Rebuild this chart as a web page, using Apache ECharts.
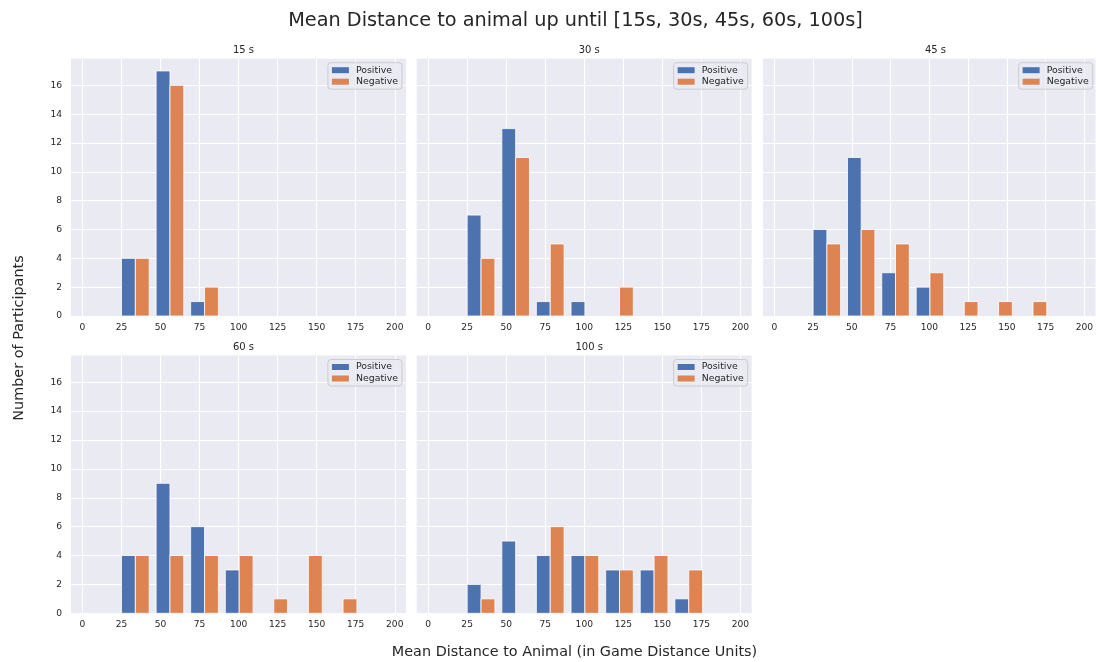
<!DOCTYPE html>
<html>
<head>
<meta charset="utf-8">
<script src="https://cdn.jsdelivr.net/npm/echarts@6/dist/echarts.min.js"></script>
<style>html,body{margin:0;padding:0;background:#fff}#c{width:1096px;height:662px}</style>
</head>
<body>
<div id="c"></div>
<script>
// ---- data ----
const panelTitles = ['15 s', '30 s', '45 s', '60 s', '100 s'];
const binEdges = [22.8, 45.0, 67.1, 89.3, 111.5, 133.6, 155.8, 178.0, 200.2];
const positive15 = [4, 17, 1, 0, 0, 0, 0, 0];
const negative15 = [4, 16, 2, 0, 0, 0, 0, 0];
const positive30 = [7, 13, 1, 1, 0, 0, 0, 0];
const negative30 = [4, 11, 5, 0, 2, 0, 0, 0];
const positive45 = [6, 11, 3, 2, 0, 0, 0, 0];
const negative45 = [5, 6, 5, 3, 1, 1, 1, 0];
const positive60 = [4, 9, 6, 3, 0, 0, 0, 0];
const negative60 = [4, 4, 4, 4, 1, 4, 1, 0];
const positive100 = [2, 5, 4, 4, 3, 3, 1, 0];
const negative100 = [1, 0, 6, 4, 3, 4, 3, 0];
const xTicks = [0, 25, 50, 75, 100, 125, 150, 175, 200];
const yTicks = [0, 2, 4, 6, 8, 10, 12, 14, 16];

const positives = [positive15, positive30, positive45, positive60, positive100];
const negatives = [negative15, negative30, negative45, negative60, negative100];

// ---- layout ----
const FONT = 'DejaVu Sans';
const TXT = '#262626';
const panels = [
  {left: 71, top: 58.7, right: 406, bottom: 316, ylab: true},
  {left: 416.7, top: 58.7, right: 751.7, bottom: 316, ylab: false},
  {left: 763, top: 58.7, right: 1098, bottom: 316, ylab: false},
  {left: 71, top: 355.5, right: 406, bottom: 613.3, ylab: true},
  {left: 416.7, top: 355.5, right: 751.7, bottom: 613.3, ylab: false}
];
const BLUE = '#4c72b0', ORANGE = '#dd8452';

function binData(counts) {
  return counts.map((c, i) => [binEdges[i], binEdges[i + 1], c]);
}
function makeRender(frac) {
  return function (params, api) {
    const l = api.value(0), r = api.value(1), c = api.value(2);
    if (!c) return null;
    const w = r - l;
    const x0 = l + w * (0.1 + frac), x1 = x0 + w * 0.4;
    const p0 = api.coord([x0, c]), p1 = api.coord([x1, 0]);
    return {
      type: 'rect',
      shape: {x: p0[0], y: p0[1], width: p1[0] - p0[0], height: p1[1] - p0[1]},
      style: {fill: api.visual('color'), stroke: '#ffffff', lineWidth: 0.8}
    };
  };
}

const grid = [], xAxis = [], yAxis = [], series = [], legend = [], title = [];
title.push({
  text: 'Mean Distance to animal up until [15s, 30s, 45s, 60s, 100s]',
  left: 570.5, textAlign: 'center', top: 6.5,
  textStyle: {fontFamily: FONT, fontSize: 19.3, fontWeight: 'normal', color: TXT}
});
panels.forEach((p, k) => {
  grid.push({left: p.left, top: p.top, width: p.right - p.left, height: p.bottom - p.top,
    show: true, backgroundColor: '#eaeaf2', borderWidth: 0, containLabel: false});
  xAxis.push({
    type: 'value', gridIndex: k, min: -7.3, max: 207.2,
    axisLine: {show: false},
    axisTick: {show: false, customValues: xTicks},
    axisLabel: {customValues: xTicks, color: TXT, fontFamily: FONT, fontSize: 9.1, margin: 7},
    splitLine: {show: true, lineStyle: {color: '#ffffff', width: 1}}
  });
  yAxis.push({
    type: 'value', gridIndex: k, min: 0, max: 17.85,
    axisLine: {show: false},
    axisTick: {show: false, customValues: yTicks},
    axisLabel: {show: p.ylab, customValues: yTicks, color: TXT, fontFamily: FONT, fontSize: 9.1, margin: 9},
    splitLine: {show: true, lineStyle: {color: '#ffffff', width: 1}}
  });
  series.push({
    type: 'custom', name: 'Positive', xAxisIndex: k, yAxisIndex: k,
    itemStyle: {color: BLUE}, renderItem: makeRender(0),
    encode: {x: [0, 1], y: 2}, data: binData(positives[k])
  });
  series.push({
    type: 'custom', name: 'Negative', xAxisIndex: k, yAxisIndex: k,
    itemStyle: {color: ORANGE}, renderItem: makeRender(0.4),
    encode: {x: [0, 1], y: 2}, data: binData(negatives[k])
  });
  const legRight = [402, 747.7, 1092.7, 402, 747.7][k];
  legend.push({
    data: ['Positive', 'Negative'], orient: 'vertical', selectedMode: false,
    right: 1096 - legRight, top: p.top + 4,
    icon: 'rect', itemWidth: 17, itemHeight: 6, itemGap: 2.5,
    padding: [3, 4, 3, 4],
    backgroundColor: 'rgba(234,234,242,0.8)', borderColor: '#cccccc', borderWidth: 1, borderRadius: 3,
    textStyle: {fontFamily: FONT, fontSize: 9.4, color: TXT, padding: [0, 0, 0, 2]}
  });
  title.push({
    text: panelTitles[k], left: (p.left + Math.min(p.right, 1096)) / 2 + (k === 2 ? 1 : 0), top: p.top - 18.5,
    textAlign: 'center',
    textStyle: {fontFamily: FONT, fontSize: 10, fontWeight: 'normal', color: TXT}
  });
});

const chart = echarts.init(document.getElementById('c'), null, {renderer: 'canvas'});
chart.setOption({
  animation: false,
  backgroundColor: '#ffffff',
  title, grid, xAxis, yAxis, series, legend,
  graphic: [
    {type: 'text', x: 574.5, y: 652,
      style: {text: 'Mean Distance to Animal (in Game Distance Units)', font: '14.4px "DejaVu Sans"', fill: TXT, align: 'center', verticalAlign: 'middle'}},
    {type: 'text', x: 19, y: 338, rotation: Math.PI / 2,
      style: {text: 'Number of Participants', font: '14.4px "DejaVu Sans"', fill: TXT, align: 'center', verticalAlign: 'middle'}}
  ]
});
</script>
</body>
</html>
